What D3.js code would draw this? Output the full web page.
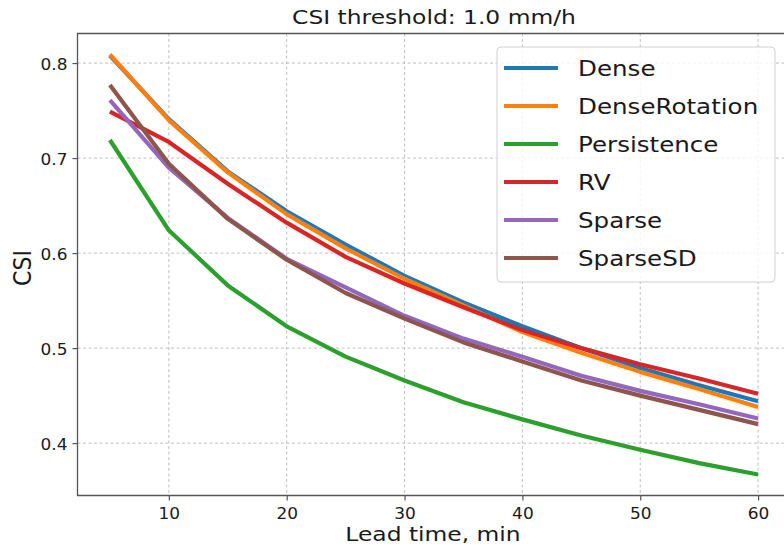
<!DOCTYPE html>
<html>
<head>
<meta charset="utf-8">
<script src="https://cdn.jsdelivr.net/npm/d3@7"></script>
<style>
  body { margin: 0; background: #fff; }
  text { font-family: "DejaVu Sans", sans-serif; fill: #1a1a1a; }
</style>
</head>
<body>
<svg id="chart"></svg>
<script>
// Lead times (min) and CSI per model
const leadTimes = [5, 10, 15, 20, 25, 30, 35, 40, 45, 50, 55, 60];
const seriesNames = ['Dense', 'DenseRotation', 'Persistence', 'RV', 'Sparse', 'SparseSD'];
const dense         = [0.808, 0.741, 0.686, 0.644, 0.609, 0.576, 0.548, 0.523, 0.500, 0.479, 0.461, 0.444];
const denseRotation = [0.809, 0.740, 0.685, 0.641, 0.605, 0.573, 0.545, 0.517, 0.495, 0.475, 0.457, 0.438];
const persistence   = [0.719, 0.624, 0.566, 0.523, 0.491, 0.466, 0.443, 0.425, 0.408, 0.393, 0.379, 0.367];
const rv            = [0.749, 0.717, 0.673, 0.632, 0.596, 0.568, 0.543, 0.519, 0.500, 0.483, 0.468, 0.452];
const sparse        = [0.761, 0.690, 0.637, 0.594, 0.564, 0.534, 0.510, 0.491, 0.471, 0.455, 0.441, 0.426];
const sparseSD      = [0.777, 0.694, 0.636, 0.593, 0.558, 0.531, 0.506, 0.486, 0.466, 0.450, 0.435, 0.420];
const xTicks = [10, 20, 30, 40, 50, 60];
const yTicks = [0.4, 0.5, 0.6, 0.7, 0.8];

const values = [dense, denseRotation, persistence, rv, sparse, sparseSD];
const colors = ['#1f77b4', '#ff7f0e', '#2ca02c', '#d62728', '#9467bd', '#8c564b'];

const W = 784, H = 547;
const margin = {top: 33.5, right: -6.5, bottom: 51.5, left: 77.5};
const sx = 1.17;     // the reference is stretched horizontally
const sxTick = 1.06;

const svg = d3.select('#chart').attr('width', W).attr('height', H);
const innerW = W - margin.left - margin.right;
const innerH = H - margin.top - margin.bottom;

// matplotlib-like 5% margins
const pad = (ext) => { const d = (ext[1] - ext[0]) * 0.05; return [ext[0] - d, ext[1] + d]; };
const xScale = d3.scaleLinear().domain(pad(d3.extent(leadTimes))).range([0, innerW]);
const yScale = d3.scaleLinear().domain(pad(d3.extent(values.flat()))).range([innerH, 0]);

const chart = svg.append('g').attr('transform', `translate(${margin.left},${margin.top})`);

// grid
chart.append('g').selectAll('line').data(xTicks).join('line')
    .attr('x1', d => xScale(d)).attr('x2', d => xScale(d))
    .attr('y1', 0).attr('y2', innerH)
    .attr('stroke', '#b8b8b8').attr('stroke-width', 0.9).attr('stroke-dasharray', '3,2.5');
chart.append('g').selectAll('line').data(yTicks).join('line')
    .attr('y1', d => yScale(d)).attr('y2', d => yScale(d))
    .attr('x1', 0).attr('x2', innerW)
    .attr('stroke', '#b8b8b8').attr('stroke-width', 0.9).attr('stroke-dasharray', '3,2.5');

// lines
const line = d3.line().x((d, i) => xScale(leadTimes[i])).y(d => yScale(d));
chart.append('g').selectAll('path').data(values).join('path')
    .attr('d', d => line(d))
    .attr('fill', 'none')
    .attr('stroke', (d, i) => colors[i])
    .attr('stroke-width', 4.2)
    .attr('stroke-linejoin', 'round');

// axes
const xAxis = d3.axisBottom(xScale).tickValues(xTicks).tickSize(5).tickSizeOuter(0).tickFormat(d3.format('d'));
const yAxis = d3.axisLeft(yScale).tickValues(yTicks).tickSize(5).tickSizeOuter(0).tickFormat(d3.format('.1f'));

const xAxisG = chart.append('g').attr('transform', `translate(0,${innerH})`).call(xAxis);
const yAxisG = chart.append('g').call(yAxis);
[xAxisG, yAxisG].forEach(g => {
  g.select('.domain').remove();
  g.selectAll('line').attr('stroke', '#555').attr('stroke-width', 1.2);
  g.selectAll('text').attr('font-size', 16).attr('fill', '#1a1a1a')
      .style('font-family', '"DejaVu Sans", sans-serif');
});
xAxisG.selectAll('.tick text').attr('y', null).attr('dy', null)
    .attr('transform', `translate(0,23) scale(${sxTick},1)`);
yAxisG.selectAll('.tick text').attr('x', null).attr('dy', null)
    .attr('transform', `translate(-10,6) scale(${sxTick},1)`);

// spines (left, top, bottom)
chart.append('path')
    .attr('d', `M${innerW},0H0V${innerH}H${innerW}`)
    .attr('fill', 'none').attr('stroke', '#555').attr('stroke-width', 1.3);

// titles
svg.append('text')
    .attr('transform', `translate(${margin.left + innerW / 2},24) scale(${sx},1)`)
    .attr('text-anchor', 'middle').attr('font-size', 20)
    .text('CSI threshold: 1.0 mm/h');
svg.append('text')
    .attr('transform', `translate(${margin.left + innerW / 2 - 1},541) scale(${sx},1)`)
    .attr('text-anchor', 'middle').attr('font-size', 20)
    .text('Lead time, min');
svg.append('text')
    .attr('transform', `translate(31,268) scale(1.1,1) rotate(-90)`)
    .attr('text-anchor', 'middle').attr('font-size', 22)
    .text('CSI');

// legend
const legend = svg.append('g').attr('transform', 'translate(497,47)');
legend.append('rect')
    .attr('width', 278).attr('height', 235).attr('rx', 4)
    .attr('fill', 'rgba(255,255,255,0.8)').attr('stroke', '#d0d0d0').attr('stroke-width', 1);
const items = legend.selectAll('g.item').data(seriesNames).join('g')
    .attr('class', 'item')
    .attr('transform', (d, i) => `translate(0,${21 + i * 38})`);
items.append('line')
    .attr('x1', 7).attr('x2', 61)
    .attr('stroke', (d, i) => colors[i]).attr('stroke-width', 4.2);
items.append('text')
    .attr('transform', `translate(81,7.5) scale(${sx},1)`)
    .attr('font-size', 21)
    .text(d => d);
</script>
</body>
</html>
